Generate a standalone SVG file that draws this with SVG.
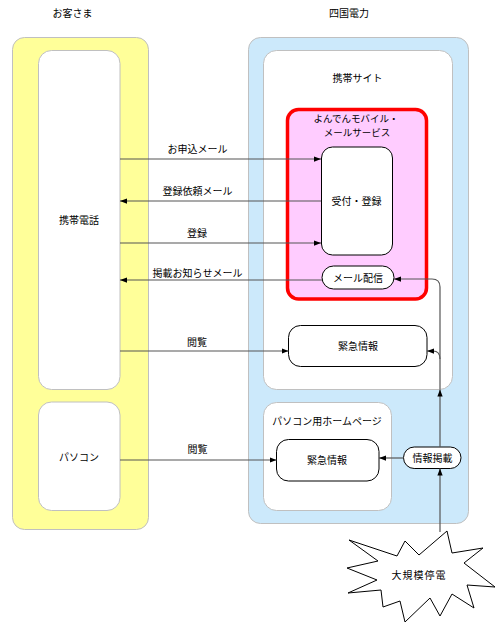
<svg xmlns="http://www.w3.org/2000/svg" width="499" height="625" viewBox="0 0 499 625">
<defs>
<style>
text{font-family:"Noto Sans CJK JP","Noto Sans",sans-serif;font-size:10px;fill:#000;text-anchor:middle;dominant-baseline:central}
.sm{font-size:9.5px}
.panel{stroke:#c0c0c0;stroke-width:1}
.box{fill:#fff;stroke:#000;stroke-width:1}
.wbox{fill:#fff;stroke:#c0c0c0;stroke-width:1}
.con{fill:none;stroke:#555;stroke-width:1.2}
</style>
<marker id="ah" viewBox="0 0 8 6" refX="8" refY="3" markerWidth="7" markerHeight="5.5" markerUnits="userSpaceOnUse" orient="auto">
<path d="M0,0 L8,3 L0,6 Z" fill="#000"/>
</marker>
</defs>
<rect width="499" height="625" fill="#fff"/>
<g id="customer">
<text x="72.5" y="12">お客さま</text>
<rect class="panel" x="12.5" y="37.5" width="136" height="492" rx="12" fill="#ffff99"/>
</g>
<g id="yonden">
<text x="349" y="12">四国電力</text>
<rect class="panel" x="248.5" y="37.5" width="220" height="486" rx="12" fill="#cce9fb"/>
</g>
<g id="mobile-phone">
<rect class="wbox" x="38.5" y="50.5" width="81.5" height="339" rx="13"/>
<text x="79" y="219">携帯電話</text>
</g>
<g id="pc">
<rect class="wbox" x="38.5" y="402" width="81.5" height="108.5" rx="13"/>
<text x="79" y="456">パソコン</text>
</g>
<g id="mobile-site">
<rect class="wbox" x="263.5" y="50.5" width="189" height="339" rx="13"/>
<text x="357.5" y="77">携帯サイト</text>
</g>
<g id="mobile-mail-service">
<rect x="287.5" y="109.5" width="139" height="189.5" rx="11" fill="#ffccff" stroke="#ff0000" stroke-width="3.5"/>
<text class="sm" x="356" y="118">よんでんモバイル・</text>
<text class="sm" x="357" y="132">メールサービス</text>
</g>
<g id="uketsuke">
<rect class="box" x="321.5" y="147" width="71" height="108" rx="11"/>
<text x="356.5" y="200">受付・登録</text>
</g>
<g id="mail-haishin">
<rect class="box" x="322" y="266" width="72" height="23" rx="11.5"/>
<text x="358" y="277">メール配信</text>
</g>
<g id="kinkyu-mobile">
<rect class="box" x="288.5" y="325.5" width="138.5" height="41" rx="12"/>
<text x="358" y="345.5">緊急情報</text>
</g>
<g id="pc-homepage">
<rect class="wbox" x="263.5" y="402.5" width="128" height="108" rx="13"/>
<text x="327" y="420.5">パソコン用ホームページ</text>
</g>
<g id="kinkyu-pc">
<rect class="box" x="276.5" y="439.5" width="102.5" height="41.5" rx="12"/>
<text x="327" y="459.5">緊急情報</text>
</g>
<g id="joho-keisai">
<rect class="box" x="403.5" y="447" width="57.5" height="21.5" rx="10.7"/>
<text x="432.5" y="457">情報掲載</text>
</g>
<g id="blackout">
<polygon points="349,540 397,556 405,541 419,555 447,531 452,553 483,548 464,563 495,587 467,585 474,608 452,594 440,616 430,598 405,622 400,601 383,607 381,590 348,593 377,580 347,568 378,561" fill="#fff" stroke="#000" stroke-width="1"/>
<text x="419" y="574.5" style="letter-spacing:1px">大規模停電</text>
</g>
<g id="connectors">
<path class="con" d="M120,159 L321,159" marker-end="url(#ah)"/>
<text x="197.5" y="148.5">お申込メール</text>
<path class="con" d="M321,201 L120,201" marker-end="url(#ah)"/>
<text x="197.5" y="190">登録依頼メール</text>
<path class="con" d="M120,243 L321,243" marker-end="url(#ah)"/>
<text x="197" y="232.5">登録</text>
<path class="con" d="M322,280 L120,280" marker-end="url(#ah)"/>
<text x="197.5" y="272">掲載お知らせメール</text>
<path class="con" d="M120,351 L288.5,351" marker-end="url(#ah)"/>
<text x="197" y="341">閲覧</text>
<path class="con" d="M120,460 L276.5,460" marker-end="url(#ah)"/>
<text x="197.5" y="448">閲覧</text>
<path class="con" d="M440,532 L440,468.5" marker-end="url(#ah)"/>
<path class="con" d="M440,447 L440,389.5" marker-end="url(#ah)"/>
<path class="con" d="M440,389.5 L440,287 Q440,279 432,279 L394,279" marker-end="url(#ah)"/>
<path class="con" d="M440,359 Q440,351 433,351 L427,351" marker-end="url(#ah)"/>
<path class="con" d="M403.5,458 L379,458" marker-end="url(#ah)"/>
</g>
</svg>
